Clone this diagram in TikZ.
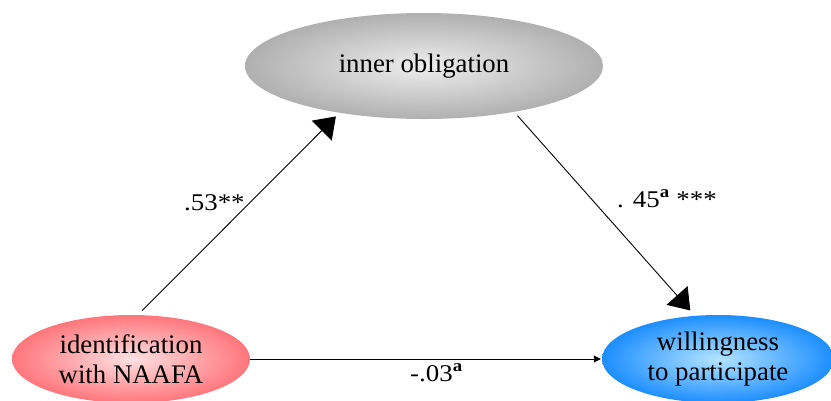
\documentclass[tikz,border=0pt]{standalone}
\usepackage{fontspec}
\setmainfont{Liberation Serif}
\newfontfamily\labelfont[FakeStretch=1.12]{Liberation Serif}
\usetikzlibrary{shapes.geometric,arrows.meta}
\tikzset{
  ovalbox/.style={ellipse, inner sep=0pt, align=center,
    font=\fontsize{26.8}{30}\selectfont},
  bigarrow/.style={line width=0.9pt, -{Triangle[length=20pt,width=28pt]}},
  smallarrow/.style={line width=0.9pt, -{Triangle[length=7pt,width=7pt]}},
  coeff/.style={font=\labelfont\fontsize{24}{28}\selectfont, inner sep=0pt, anchor=base west}
}
\definecolor{greyout}{RGB}{176,176,176}
\definecolor{greyin}{RGB}{238,238,238}
\definecolor{redout}{RGB}{255,118,124}
\definecolor{redin}{RGB}{255,224,226}
\definecolor{blueout}{RGB}{28,142,255}
\definecolor{bluein}{RGB}{180,228,255}
\begin{document}
\begin{tikzpicture}[x=1pt,y=-1pt]
\useasboundingbox (0,0) rectangle (831,400);
\clip (0,0) rectangle (831,400);
\node[ovalbox, minimum width=358pt, minimum height=106pt,
  inner color=greyin, outer color=greyout] (inner) at (424,66) {inner obligation};
\node[ovalbox, minimum width=238pt, minimum height=88pt,
  inner color=redin, outer color=redout] (ident) at (131,359) {identification\\with NAAFA};
\node[ovalbox, minimum width=232pt, minimum height=88pt,
  inner color=bluein, outer color=blueout] (will) at (718,359) {willingness\\to participate};
\draw[bigarrow, shorten <=6pt, shorten >=5pt] (ident.81) -- (inner.209);
\draw[bigarrow, shorten <=5pt, shorten >=7pt] (inner.333) -- (will.118);
\draw[smallarrow, shorten >=1pt] (ident.east) -- (will.west);
\node[coeff] (l1) at (184,210) {.53**};
\node[coeff] (l2) at (617,207) {. 45\textsuperscript{\textbf{a}} ***};
\node[coeff] (l3) at (410,381) {-.03\textsuperscript{\textbf{a}}};
\end{tikzpicture}
\end{document}
